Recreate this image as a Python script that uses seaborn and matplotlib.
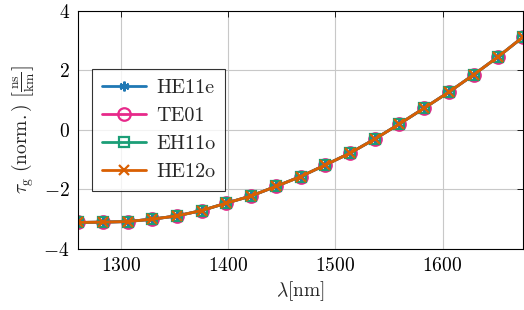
import matplotlib

matplotlib.use("Agg")
import matplotlib.pyplot as plt
import numpy as np
import pandas as pd
import seaborn as sns

# wavelength grid (nm) and normalised group delay per mode
wavelength = np.linspace(1260, 1675, 19)
tau_he11e = [-3.11, -3.10, -3.08, -3.00, -2.89, -2.71, -2.46, -2.22, -1.90, -1.57,
             -1.18, -0.78, -0.31, 0.20, 0.73, 1.27, 1.85, 2.46, 3.12]
tau_te01 = list(tau_he11e)
tau_eh11o = list(tau_he11e)
tau_he12o = list(tau_he11e)

modes = ["HE11e", "TE01", "EH11o", "HE12o"]
colors = ["#1f78b4", "#e7298a", "#1b9e77", "#d95f02"]
markers = [(6, 2, 0), "o", "s", "x"]

sns.set_theme(style="whitegrid")
plt.rcParams["font.family"] = ["cmr10", "DejaVu Serif"]
plt.rcParams["mathtext.fontset"] = "cm"
plt.rcParams["axes.formatter.use_mathtext"] = True
plt.rcParams["axes.unicode_minus"] = True

df = pd.DataFrame({
    "wavelength": np.tile(wavelength, 4),
    "tau": tau_he11e + tau_te01 + tau_eh11o + tau_he12o,
    "mode": np.repeat(modes, len(wavelength)),
})

fig, ax = plt.subplots(figsize=(5.24, 3.10), dpi=100)
fig.subplots_adjust(left=0.149, right=0.998, bottom=0.197, top=0.965)

for mode, color, marker in zip(modes, colors, markers):
    sub = df[df["mode"] == mode]
    fill = "none" if marker in ("o", "s") else color
    sns.lineplot(
        data=sub, x="wavelength", y="tau", ax=ax, color=color, label=mode,
        marker=marker, markersize=9 if marker == "o" else 7,
        markerfacecolor=fill, markeredgecolor=color, markeredgewidth=1.6,
        linewidth=2,
    )

ax.set_xlim(1260, 1675)
ax.set_ylim(-4, 4)
ax.set_xticks([1300, 1400, 1500, 1600])
ax.set_yticks([-4, -2, 0, 2, 4])
ax.grid(True, color="#c8c8c8", linewidth=0.8)
for spine in ax.spines.values():
    spine.set_color("black")
    spine.set_linewidth(0.8)
ax.tick_params(direction="in", length=4, width=0.6, labelsize=14, pad=6,
               top=True, right=True, colors="black")
ax.set_xlabel(r"$\lambda[\mathrm{nm}]$", fontsize=14, labelpad=3)
ax.set_ylabel(r"$\tau_{\mathrm{g}}\ (\mathrm{norm.})\ \left[\frac{\mathrm{ns}}{\mathrm{km}}\right]$",
              fontsize=14, labelpad=5)

leg = ax.legend(loc="center left", bbox_to_anchor=(0.008, 0.5), fontsize=14.5,
                frameon=True, fancybox=False, handlelength=2.2, borderpad=0.5,
                labelspacing=0.5, handletextpad=0.5)
leg.get_frame().set_edgecolor("black")
leg.get_frame().set_linewidth(0.8)

fig.savefig("out.png", dpi=100)
